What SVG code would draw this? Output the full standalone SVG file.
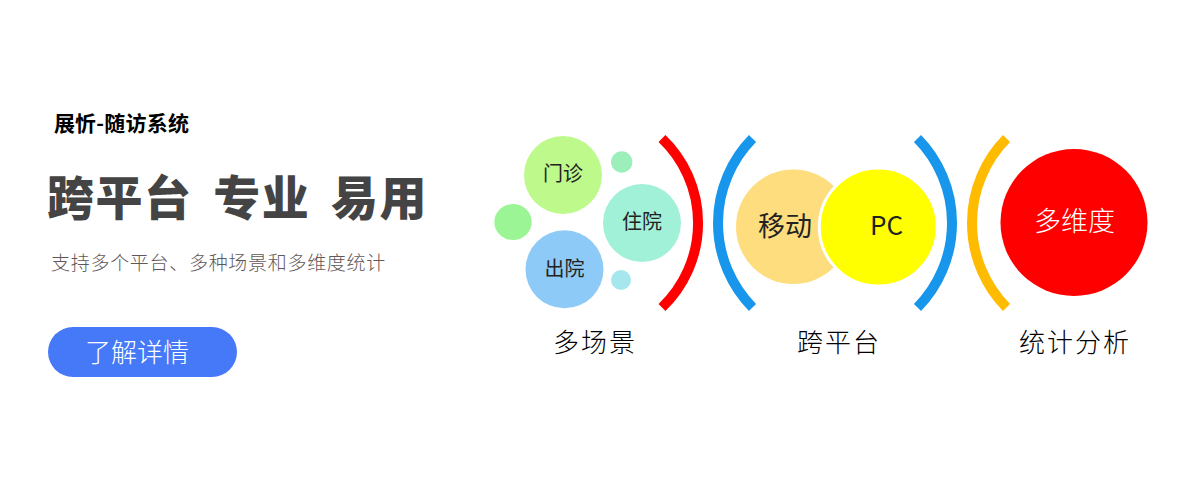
<svg xmlns="http://www.w3.org/2000/svg" width="1200" height="500" viewBox="0 0 1200 500">
<style>
text{font-family:"Noto Sans CJK SC","Noto Sans",sans-serif;text-anchor:middle}
.arc{fill:none;stroke-width:10}
.cap{font-size:26px;fill:#000;letter-spacing:2px;font-weight:300}
.in{font-size:20px;fill:#222}
</style>
<rect width="1200" height="500" fill="#fff"/>
<g id="intro">
<text x="121.500" y="131" style="font-size:21px;font-weight:700;fill:#000;letter-spacing:.2px">展忻-随访系统</text>
<text x="237.500" y="215" style="font-size:47px;font-weight:900;fill:#444;letter-spacing:1.500px;word-spacing:8.500px">跨平台 专业 易用</text>
<text x="218.500" y="270" style="font-size:19px;font-weight:300;fill:#625757;letter-spacing:.7px">支持多个平台、多种场景和多维度统计</text>
</g>
<g id="btn">
<rect x="48" y="327" width="189" height="50" rx="25" fill="#4579f8"/>
<text x="137" y="362" style="font-size:26px;font-weight:300;fill:#fff">了解详情</text>
</g>
<g id="connectors">
<path class="arc" stroke="#ff0000" d="M662 138.500A117 117 0 0 1 662 307.500"/>
<path class="arc" stroke="#1796eb" d="M752.500 138.500A120.700 120.700 0 0 0 752.500 307.500"/>
<path class="arc" stroke="#1796eb" d="M917.500 138.500A120.700 120.700 0 0 1 917.500 307.500"/>
<path class="arc" stroke="#ffbb00" d="M1006.500 138.500A120.700 120.700 0 0 0 1006.500 307.500"/>
</g>
<g id="n-mz"><circle cx="563" cy="175" r="39" fill="#bdf98b"/><text class="in" x="563" y="181">门诊</text></g>
<g id="n-s1"><circle cx="621.700" cy="162" r="10.700" fill="#9cefbb"/></g>
<g id="n-zy"><circle cx="642" cy="223" r="39" fill="#a0f1d8"/><text class="in" x="642" y="229">住院</text></g>
<g id="n-s2"><ellipse cx="513" cy="222" rx="18.700" ry="18" fill="#9cf594"/></g>
<g id="n-cy"><circle cx="564.500" cy="269.300" r="39" fill="#8ecaf7"/><text class="in" x="564.500" y="276">出院</text></g>
<g id="n-s3"><circle cx="621" cy="280" r="10" fill="#a6e6ee"/></g>
<g id="n-yd"><circle cx="793.300" cy="226.700" r="57.300" fill="#fedd7f"/><text x="785" y="236" style="font-size:27px;fill:#222">移动</text></g>
<g id="n-pc"><circle cx="878.300" cy="227" r="59" fill="#ffff00" stroke="#fff" stroke-width="3"/><text x="886.500" y="235" style="font-size:26px;font-weight:400;fill:#222">PC</text></g>
<g id="n-dw"><circle cx="1074" cy="222.500" r="73.500" fill="#ff0000"/><text x="1074.500" y="231" style="font-size:27px;font-weight:300;fill:#fff">多维度</text></g>
<g id="captions">
<text class="cap" x="595" y="352">多场景</text>
<text class="cap" x="839" y="352">跨平台</text>
<text class="cap" x="1075" y="352">统计分析</text>
</g>
</svg>
